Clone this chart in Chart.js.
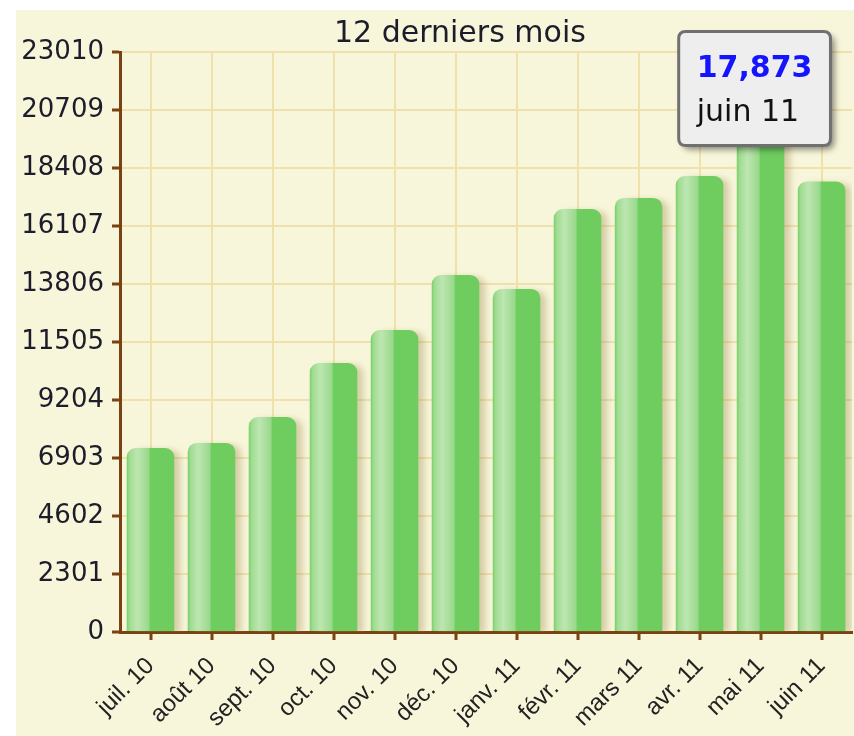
<!DOCTYPE html>
<html>
<head>
<meta charset="utf-8">
<script src="https://cdn.jsdelivr.net/npm/chart.js@4/dist/chart.umd.min.js"></script>
<style>
  html, body { margin: 0; padding: 0; background: #ffffff; }
  #wrap { position: absolute; left: 16px; top: 10px; width: 838px; height: 726px; background: #f8f6da; }
  #title { position: absolute; left: 318px; top: 4px; font: 30px "DejaVu Sans", sans-serif; color: #1c1c2a; white-space: nowrap; }
  #visitsChart { position: absolute; left: 0; top: 0; }
</style>
</head>
<body>
<div id="wrap">
  <canvas id="visitsChart" width="838" height="726"></canvas>
  <div id="title"></div>
</div>
<script>
// Données : 12 derniers mois
const chartTitle = "12 derniers mois";
const months = ["juil. 10", "août 10", "sept. 10", "oct. 10", "nov. 10", "déc. 10",
                "janv. 11", "févr. 11", "mars 11", "avr. 11", "mai 11", "juin 11"];
const visits = [7300, 7500, 8530, 10670, 11980, 14160, 13610, 16780, 17220, 18090, 19700, 17873];
const yTicks = [0, 2301, 4602, 6903, 9204, 11505, 13806, 16107, 18408, 20709, 23010];
const shownIndex = 11; // bulle affichée (juin 11)

document.getElementById("title").textContent = chartTitle;

const brown = "#7a4212";
const gridTan = "#f0e0ac";

// dégradé "verre" horizontal pour chaque barre
function barFill(c) {
  const chart = c.chart;
  const xs = chart.scales.x;
  if (!xs || !chart.chartArea || c.type !== "data") return "#6fcd60";
  const cx = xs.getPixelForValue(c.dataIndex);
  const w = xs.width / months.length * 0.78;
  const g = chart.ctx.createLinearGradient(cx - w / 2, 0, cx + w / 2, 0);
  g.addColorStop(0, "#74d166");
  g.addColorStop(0.06, "#a0dc92");
  g.addColorStop(0.22, "#bde6b0");
  g.addColorStop(0.46, "#9ad98d");
  g.addColorStop(0.5, "#6fcd60");
  g.addColorStop(1, "#6fcd60");
  return g;
}

// ombre portée des barres
const barShadow = {
  id: "barShadow",
  beforeDatasetsDraw(chart) {
    const c = chart.ctx;
    c.save();
    c.shadowColor = "rgba(150,130,70,0.35)";
    c.shadowBlur = 6;
    c.shadowOffsetX = 6;
    c.shadowOffsetY = 2;
  },
  afterDatasetsDraw(chart) {
    chart.ctx.restore();
  }
};

// ombre de la bulle
const tipShadow = {
  id: "tipShadow",
  beforeTooltipDraw(chart, args) {
    const t = args.tooltip;
    if (!t.opacity) return;
    const c = chart.ctx;
    c.save();
    c.shadowColor = "rgba(0,0,0,0.45)";
    c.shadowBlur = 6;
    c.shadowOffsetX = 4;
    c.shadowOffsetY = 4;
    c.fillStyle = "#777";
    c.beginPath();
    c.roundRect(t.x, t.y, t.width, t.height, 7);
    c.fill();
    c.restore();
  }
};

// bulle posée au-dessus de la barre précédente, comme sur l'original
Chart.Tooltip.positioners.besideBar = function (items) {
  if (!items.length) return false;
  const meta = this.chart.getDatasetMeta(0);
  const prev = meta.data[Math.max(items[0].index - 1, 0)];
  return { x: prev.x - 6, y: prev.y + 10 };
};

const ctx = document.getElementById("visitsChart").getContext("2d");
const chart = new Chart(ctx, {
  type: "bar",
  data: {
    labels: months,
    datasets: [{
      data: visits,
      backgroundColor: barFill,
      hoverBackgroundColor: barFill,
      borderWidth: 0,
      borderRadius: { topLeft: 9, topRight: 9 },
      borderSkipped: "start",
      barPercentage: 0.78,
      categoryPercentage: 1
    }]
  },
  plugins: [barShadow, tipShadow],
  options: {
    responsive: false,
    animation: false,
    events: [],
    layout: { padding: { top: 42, right: 1, left: 0, bottom: 0 } },
    plugins: {
      legend: { display: false },
      title: { display: false },
      tooltip: {
        position: "besideBar",
        xAlign: "center",
        yAlign: "bottom",
        caretSize: 0,
        caretPadding: 0,
        backgroundColor: "#eeeeee",
        borderColor: "#707070",
        borderWidth: 3,
        cornerRadius: 7,
        displayColors: false,
        padding: { top: 20, bottom: 14, left: 18, right: 18 },
        titleColor: "#1414ff",
        titleFont: { family: "DejaVu Sans", size: 30, weight: "bold" },
        titleMarginBottom: 8,
        bodyColor: "#111111",
        bodyFont: { family: "DejaVu Sans", size: 30 },
        callbacks: {
          title: items => items[0].raw.toLocaleString("en-US"),
          label: item => item.label
        }
      }
    },
    scales: {
      x: {
        grid: { offset: false, color: gridTan, lineWidth: 2, tickColor: brown, tickLength: 8, tickWidth: 3 },
        border: { color: brown, width: 3 },
        ticks: {
          autoSkip: false, maxRotation: 45, minRotation: 45, padding: 12,
          color: "#222222", font: { family: "Liberation Sans", size: 24 }
        },
        afterFit: s => { s.height = 104; }
      },
      y: {
        min: 0,
        max: 23010,
        afterBuildTicks: s => { s.ticks = yTicks.map(v => ({ value: v })); },
        grid: { color: gridTan, lineWidth: 2, tickColor: brown, tickLength: 8, tickWidth: 3 },
        border: { color: brown, width: 3 },
        ticks: {
          padding: 8, color: "#1c1c2a",
          font: { family: "DejaVu Sans", size: 26 },
          callback: v => String(v)
        },
        afterFit: s => { s.width = 104; }
      }
    }
  }
});

chart.tooltip.setActiveElements([{ datasetIndex: 0, index: shownIndex }], { x: 0, y: 0 });
chart.update();
</script>
</body>
</html>
